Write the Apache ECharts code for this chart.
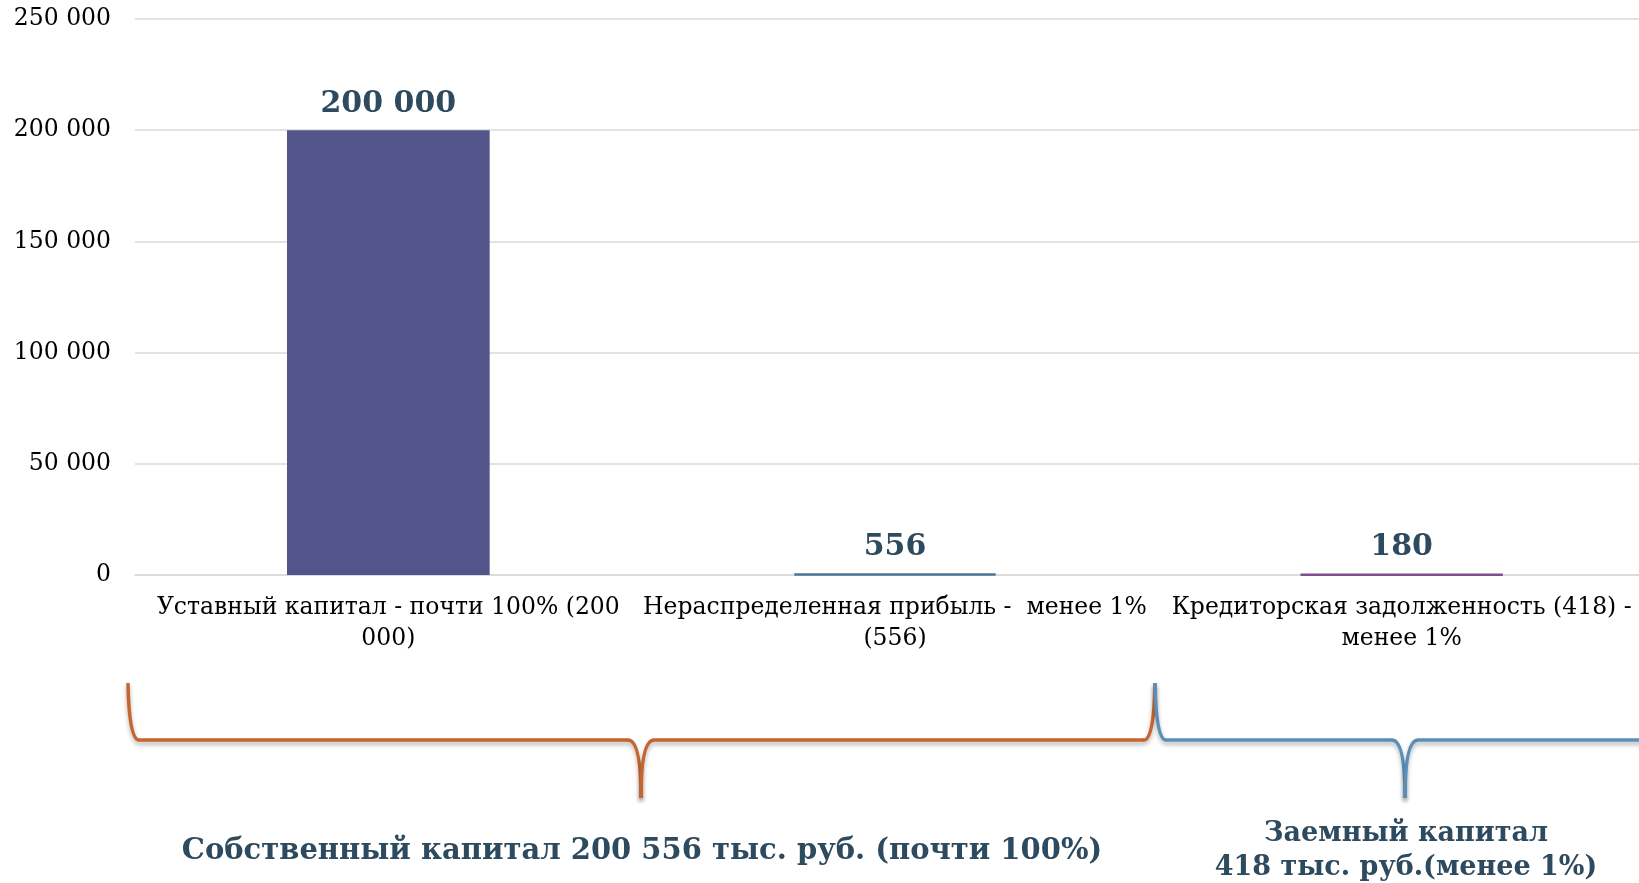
<!DOCTYPE html>
<html>
<head>
<meta charset="utf-8">
<script src="https://cdn.jsdelivr.net/npm/echarts@6/dist/echarts.min.js"></script>
<style>
  html, body { margin: 0; padding: 0; background: #fff; overflow: hidden; }
  /* область графика чуть шире окна: правый край оси уходит за кадр */
  #chart { width: 1655px; height: 883px; }
</style>
</head>
<body>
<div id="chart"></div>
<script>
// данные диаграммы
const categories = [
  'Уставный капитал - почти 100% (200\n000)',
  'Нераспределенная прибыль -  менее 1%\n(556)',
  'Кредиторская задолженность (418) -\nменее 1%'
]
const values = [200000, 556, 180]
const barColors = ['#535489', '#a3bbce', '#dcc8e0']
const barBorders = ['#535489', '#4f7592', '#7f4f8f']
const yTicks = { min: 0, max: 250000, interval: 50000 }

const ownCapitalText = 'Собственный капитал 200 556 тыс. руб. (почти 100%)'
const loanCapitalText = 'Заемный капитал\n418 тыс. руб.(менее 1%)'

const fontFamily = '"DejaVu Serif", serif'
const textColor = '#2d4a5e'

const fmt = v => String(v).replace(/\B(?=(\d{3})+(?!\d))/g, ' ')

// фигурная скобка из отрезков и кривых
const brace = (x1, x2, xm, top, mid, tip, color, openLeft, openRight) => {
  const style = {
    stroke: color,
    lineWidth: 3.5,
    fill: null,
    shadowColor: 'rgba(0,0,0,0.3)',
    shadowBlur: 4,
    shadowOffsetY: 3
  }
  const r = 11
  const els = []
  if (openLeft) {
    els.push({ type: 'bezierCurve', shape: { x1: x1, y1: top, cpx1: x1 + 1, cpy1: mid, x2: x1 + r, y2: mid }, style })
  }
  els.push({ type: 'line', shape: { x1: x1 + r, y1: mid, x2: xm - r - 2, y2: mid }, style })
  els.push({ type: 'bezierCurve', shape: { x1: xm - r - 2, y1: mid, cpx1: xm, cpy1: mid, x2: xm, y2: tip }, style })
  els.push({ type: 'bezierCurve', shape: { x1: xm + r + 2, y1: mid, cpx1: xm, cpy1: mid, x2: xm, y2: tip }, style })
  els.push({ type: 'line', shape: { x1: xm + r + 2, y1: mid, x2: openRight ? x2 - r : x2, y2: mid }, style })
  if (openRight) {
    els.push({ type: 'bezierCurve', shape: { x1: x2 - r, y1: mid, cpx1: x2 - 1, cpy1: mid, x2: x2, y2: top }, style })
  }
  return els
}

const chart = echarts.init(document.getElementById('chart'))

const option = {
  animation: false,
  grid: {
    left: 135,
    right: 0,
    top: 19,
    bottom: 308,
    containLabel: false
  },
  xAxis: {
    type: 'category',
    data: categories,
    axisLine: { lineStyle: { color: '#d9d9d9', width: 1.5 } },
    axisTick: { show: false },
    axisLabel: {
      interval: 0,
      color: '#000',
      fontFamily: fontFamily,
      fontSize: 23.5,
      lineHeight: 31,
      margin: 17
    }
  },
  yAxis: {
    type: 'value',
    min: yTicks.min,
    max: yTicks.max,
    interval: yTicks.interval,
    axisLine: { show: false },
    axisTick: { show: false },
    splitLine: { lineStyle: { color: '#d9d9d9', width: 1.5 } },
    axisLabel: {
      color: '#000',
      fontFamily: fontFamily,
      fontSize: 23.5,
      margin: 24,
      formatter: fmt
    }
  },
  series: [
    {
      type: 'bar',
      barWidth: '40%',
      data: values.map((v, i) => ({
        value: v,
        itemStyle: {
          color: barColors[i],
          borderColor: barBorders[i],
          borderWidth: i === 0 ? 0 : 2.5
        }
      })),
      label: {
        show: true,
        position: 'top',
        distance: 11,
        color: textColor,
        fontFamily: fontFamily,
        fontWeight: 'bold',
        fontSize: 30,
        formatter: p => fmt(p.value)
      }
    }
  ],
  graphic: [
    ...brace(128, 1155, 641, 683, 740, 798, '#c6652f', true, true),
    ...brace(1155, 1660, 1405, 683, 740, 798, '#5b8fba', true, false),
    {
      type: 'text',
      x: 642,
      y: 851,
      style: {
        text: ownCapitalText,
        fill: textColor,
        font: 'bold 29px ' + fontFamily,
        align: 'center',
        verticalAlign: 'middle'
      }
    },
    {
      type: 'text',
      x: 1406,
      y: 851,
      style: {
        text: loanCapitalText,
        fill: textColor,
        font: 'bold 27px ' + fontFamily,
        lineHeight: 34,
        align: 'center',
        verticalAlign: 'middle'
      }
    }
  ]
}

chart.setOption(option)
window.addEventListener('resize', () => chart.resize())
</script>
</body>
</html>
